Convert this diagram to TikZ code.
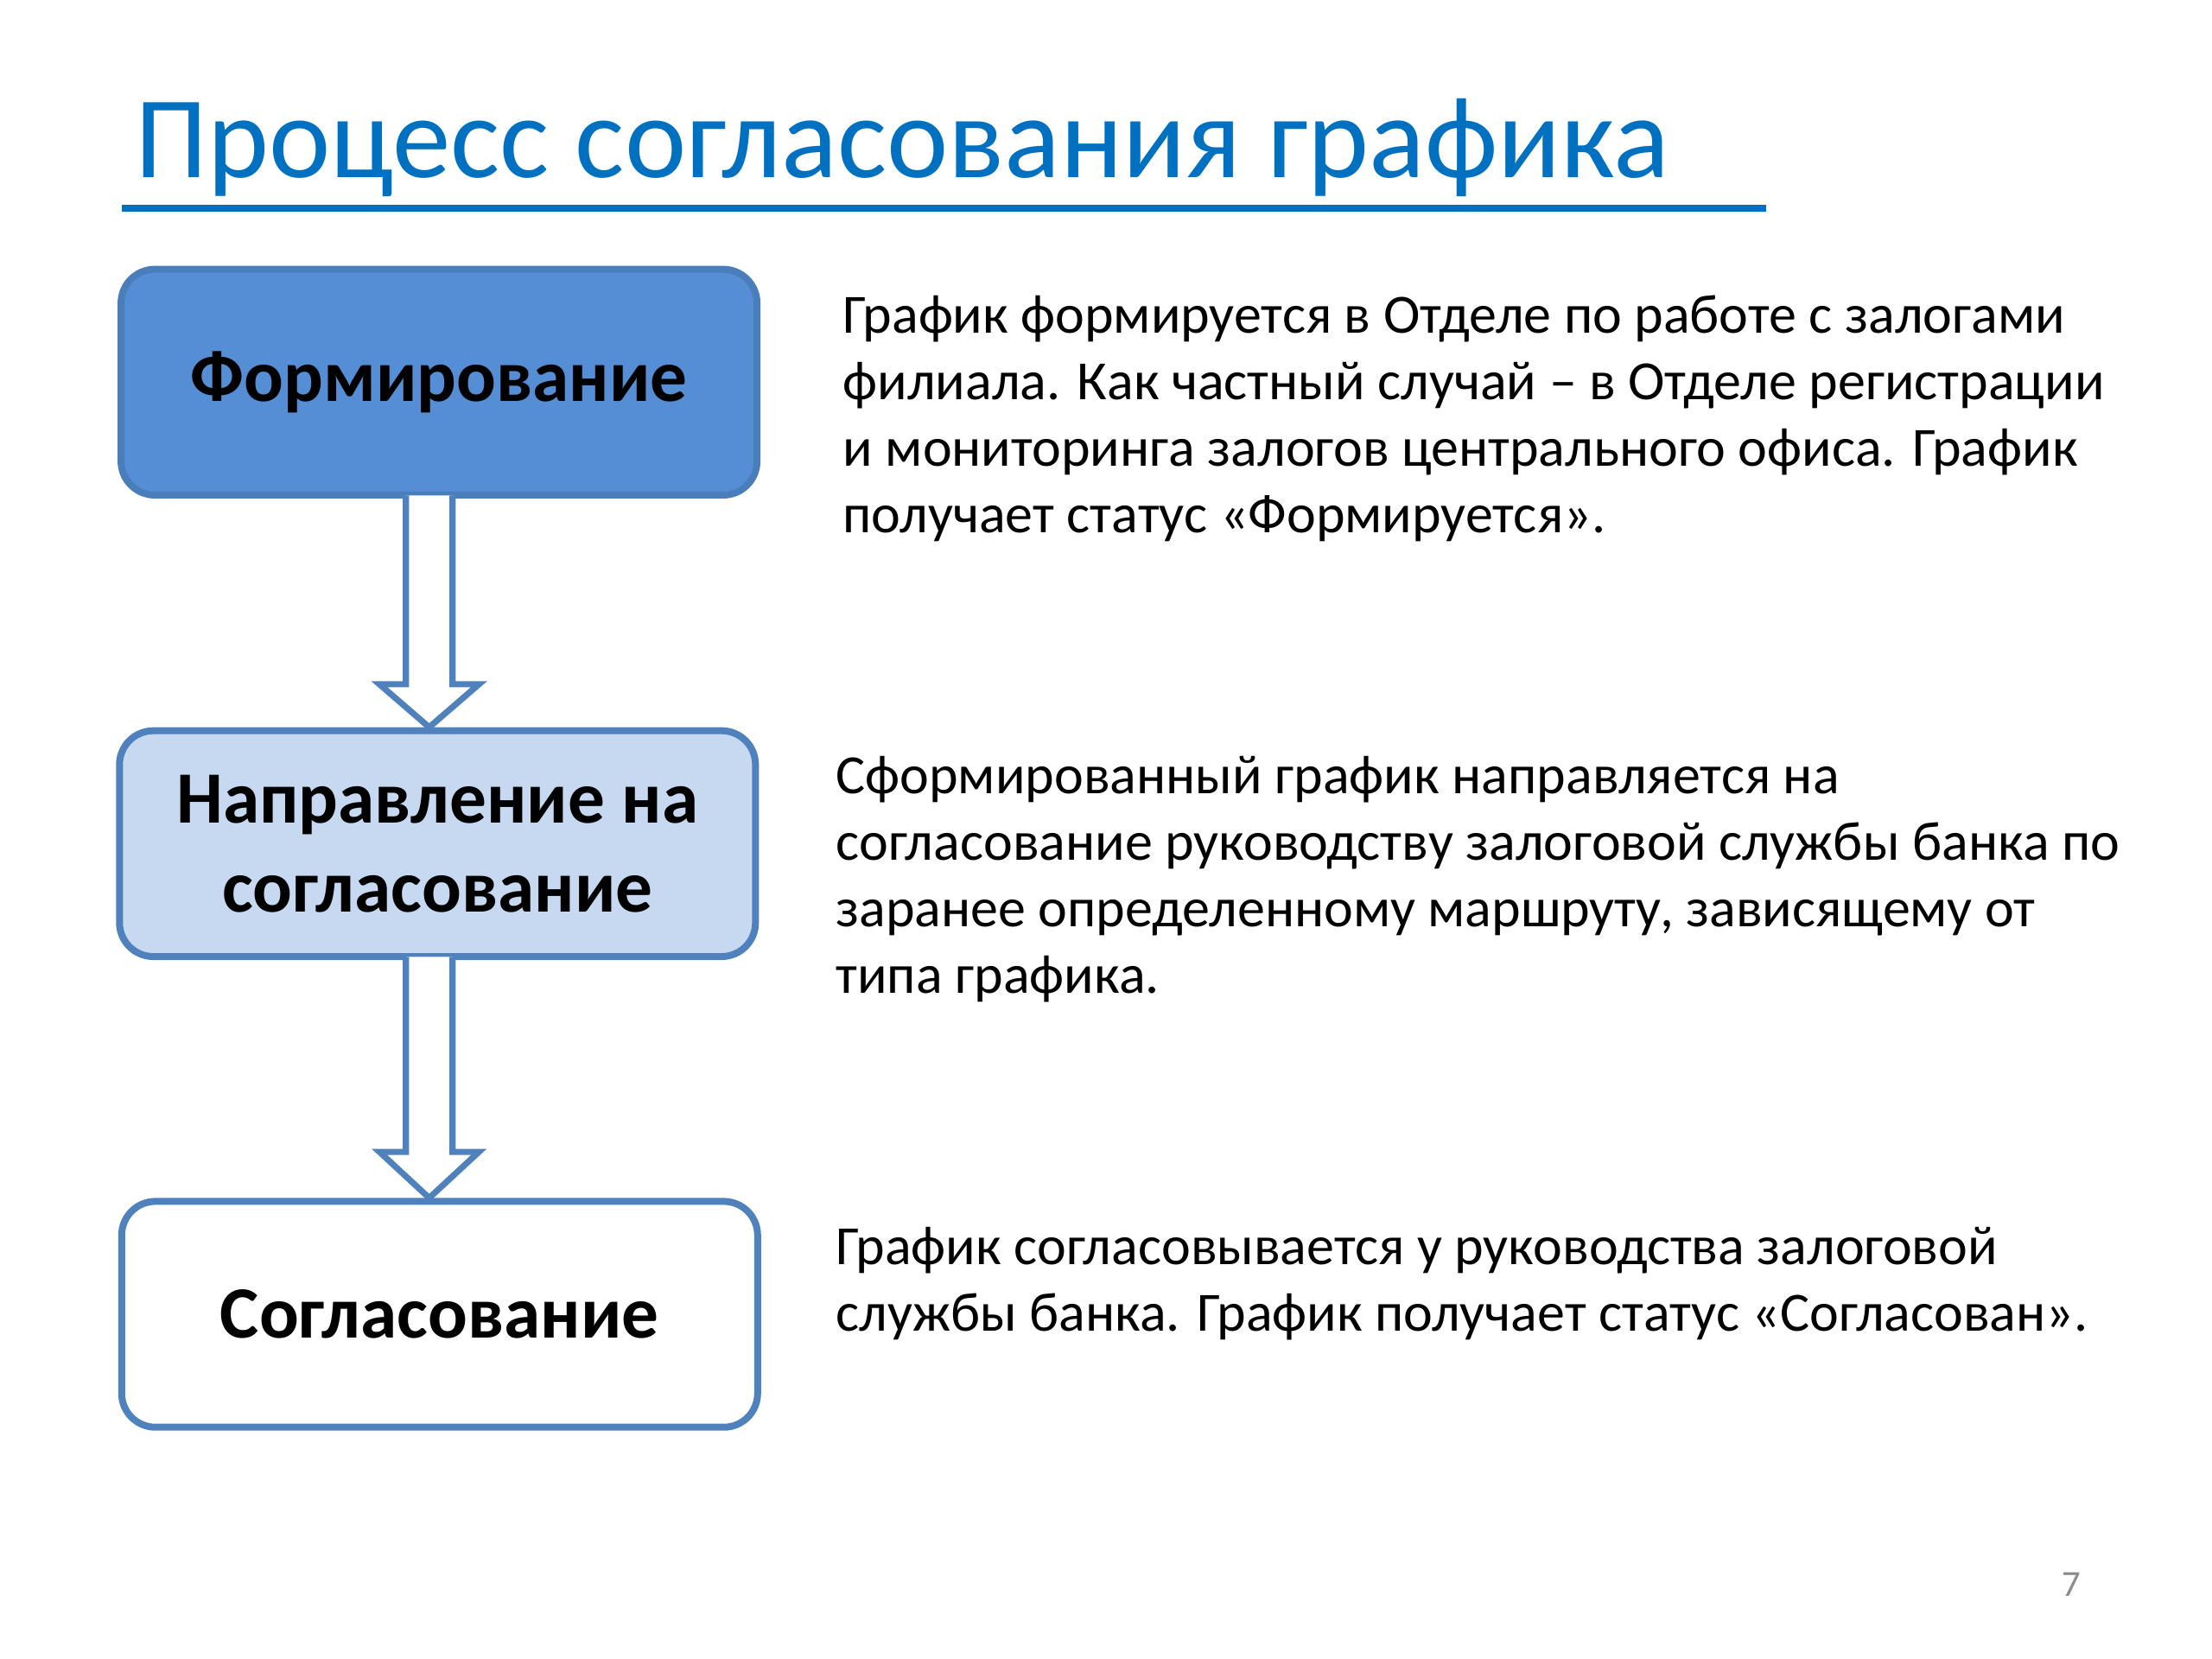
\documentclass[tikz,border=0pt]{standalone}
\usepackage{fontspec}
\setmainfont{Carlito}
\usetikzlibrary{calc}
\definecolor{titleblue}{HTML}{0070C0}
\definecolor{darkfill}{HTML}{558ED5}
\definecolor{darkedge}{HTML}{4A7EBB}
\definecolor{lightfill}{HTML}{C6D9F1}
\definecolor{edgeblue}{HTML}{4F81BD}
\definecolor{pagegray}{HTML}{8C8C8C}
\tikzset{
  stagebox/.style={draw=edgeblue, line width=2.25pt, rounded corners=11pt,
    minimum width=207pt, minimum height=73.5pt, align=center, inner sep=0pt,
    font=\bfseries\fontsize{24}{29}\selectfont, text=black},
  paratext/.style={anchor=north west, inner sep=0pt, align=left,
    font=\fontsize{18}{21.6}\selectfont, text=black},
  blockarrow/.style={draw=edgeblue, line width=2pt, fill=white, line join=miter}
}
\begin{document}
\begin{tikzpicture}[x=1pt,y=-1pt]
\useasboundingbox (0,0) rectangle (720,540);
% title
\node[anchor=base west, inner sep=0pt, text=titleblue, font=\fontsize{38}{46}\selectfont] (title) at (43.8,57.7) {Процесс согласования графика};
\coordinate (ulA) at (39.7,67.8);
\coordinate (ulB) at (574.8,67.8);
\draw[titleblue, line width=2.4pt] (ulA) -- (ulB);
% boxes
\node[stagebox, fill=darkfill, draw=darkedge] (b1) at (142.9,124.4) {Формирование};
\node[stagebox, fill=lightfill] (b2) at (142.4,274.6) {Направление на\\согласование};
\node[stagebox, fill=white] (b3) at (143.1,427.8) {Согласование};
% arrow reference points (arrow axis slightly left of box centres)
\coordinate (t1) at ($(b2.north)+(-2.7,0)$);
\coordinate (s1) at (t1 |- b1.south);
\coordinate (t2) at ($(b3.north)+(-3.4,0)$);
\coordinate (s2) at (t2 |- b2.south);
% block arrows
\draw[blockarrow] ($(s1)+(-7.6,-1)$) -- ($(t1)+(-7.6,-14)$) -- ($(t1)+(-16.2,-14)$) -- (t1) -- ($(t1)+(16.2,-14)$) -- ($(t1)+(7.6,-14)$) -- ($(s1)+(7.6,-1)$);
\draw[blockarrow] ($(s2)+(-7.6,-1)$) -- ($(t2)+(-7.6,-15)$) -- ($(t2)+(-16.2,-15)$) -- (t2) -- ($(t2)+(16.2,-15)$) -- ($(t2)+(7.6,-15)$) -- ($(s2)+(7.6,-1)$);
% paragraphs
\node[paratext] (p1) at (274.2,96) {График формируется в Отделе по работе с залогами\\филиала. Как частный случай – в Отделе регистрации\\и мониторинга залогов центрального офиса. График\\получает статус «Формируется».};
\node[paratext] (p2) at (271.9,246) {Сформированный график направляется на\\согласование руководству залоговой службы банка по\\заранее определенному маршруту, зависящему от\\типа графика.};
\node[paratext] (p3) at (271.9,399.2) {График согласовывается у руководства залоговой\\службы банка. График получает статус «Согласован».};
% page number
\node[anchor=base, inner sep=0pt, text=pagegray, font=\fontsize{12}{14}\selectfont] (pg) at (674.2,519.5) {7};
\end{tikzpicture}
\end{document}
